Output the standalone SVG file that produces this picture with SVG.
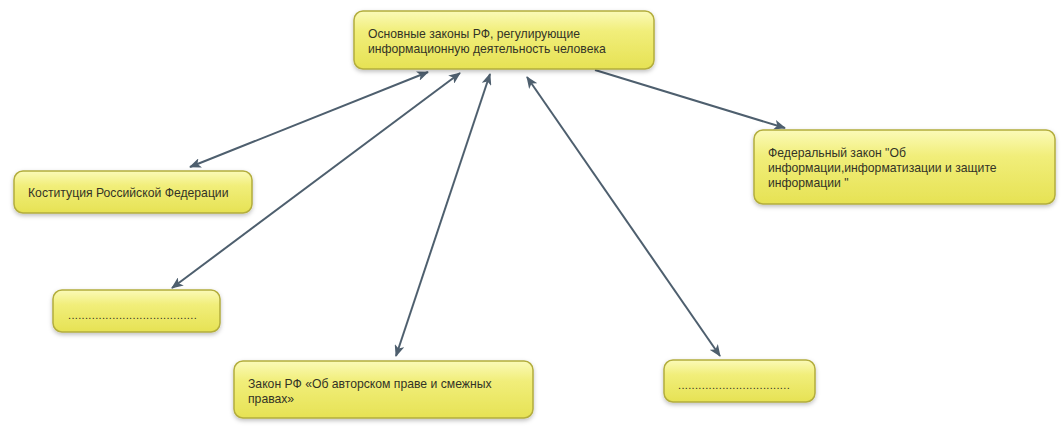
<svg xmlns="http://www.w3.org/2000/svg" width="1064" height="430" viewBox="0 0 1064 430">
<style>
.node rect{fill:url(#yg);stroke:#b3ad3c;stroke-width:1.5;filter:url(#sh)}
.node text{font-family:"Liberation Sans",Arial,sans-serif;font-size:12.2px;fill:#333326}
.node text.dots{font-size:11px;letter-spacing:0.3px}
.conn line{stroke:#4e5f6e;stroke-width:2;fill:none}
</style>
<defs>
<linearGradient id="yg" x1="0" y1="0" x2="0" y2="1">
<stop offset="0" stop-color="#fbfab8"/>
<stop offset="0.35" stop-color="#f1ee7a"/>
<stop offset="1" stop-color="#e6e254"/>
</linearGradient>
<filter id="sh" x="-10%" y="-20%" width="120%" height="150%">
<feDropShadow dx="0" dy="2" stdDeviation="2" flood-color="#000" flood-opacity="0.25"/>
</filter>
<marker id="ah" viewBox="0 0 12 10" refX="11" refY="5" markerWidth="12" markerHeight="10" markerUnits="userSpaceOnUse" orient="auto-start-reverse">
<path d="M0,0 L12,5 L0,10 L3,5 Z" fill="#4e5f6e"/>
</marker>
</defs>
<rect width="1064" height="430" fill="#ffffff"/>
<g class="conn">
<line x1="428" y1="72" x2="190" y2="167" marker-start="url(#ah)" marker-end="url(#ah)"/>
<line x1="460" y1="73" x2="172" y2="288" marker-start="url(#ah)" marker-end="url(#ah)"/>
<line x1="490" y1="74" x2="396" y2="356" marker-start="url(#ah)" marker-end="url(#ah)"/>
<line x1="527" y1="77" x2="720" y2="356" marker-start="url(#ah)" marker-end="url(#ah)"/>
<line x1="595" y1="70" x2="785" y2="128" marker-end="url(#ah)"/>
</g>
<g id="main" class="node">
<rect x="354" y="11" width="300" height="58" rx="9"/>
<text x="368" y="38">Основные законы РФ, регулирующие</text>
<text x="368" y="53">информационную деятельность человека</text>
</g>
<g id="fed" class="node">
<rect x="754" y="130" width="301" height="74" rx="9"/>
<text x="768" y="157">Федеральный закон "Об</text>
<text x="768" y="172">информации,информатизации и защите</text>
<text x="768" y="187">информации "</text>
</g>
<g id="konst" class="node">
<rect x="14" y="171" width="238" height="42" rx="9"/>
<text x="28" y="197">Коституция Российской Федерации</text>
</g>
<g id="dots1" class="node">
<rect x="53" y="290" width="167" height="42" rx="9"/>
<text class="dots" x="68" y="319" textLength="129">......................................</text>
</g>
<g id="zakon" class="node">
<rect x="234" y="361" width="299" height="57" rx="9"/>
<text x="248" y="388">Закон РФ «Об авторском праве и смежных</text>
<text x="248" y="403">правах»</text>
</g>
<g id="dots2" class="node">
<rect x="664" y="360" width="151" height="42" rx="9"/>
<text class="dots" x="678" y="389" textLength="112">.................................</text>
</g>
</svg>
